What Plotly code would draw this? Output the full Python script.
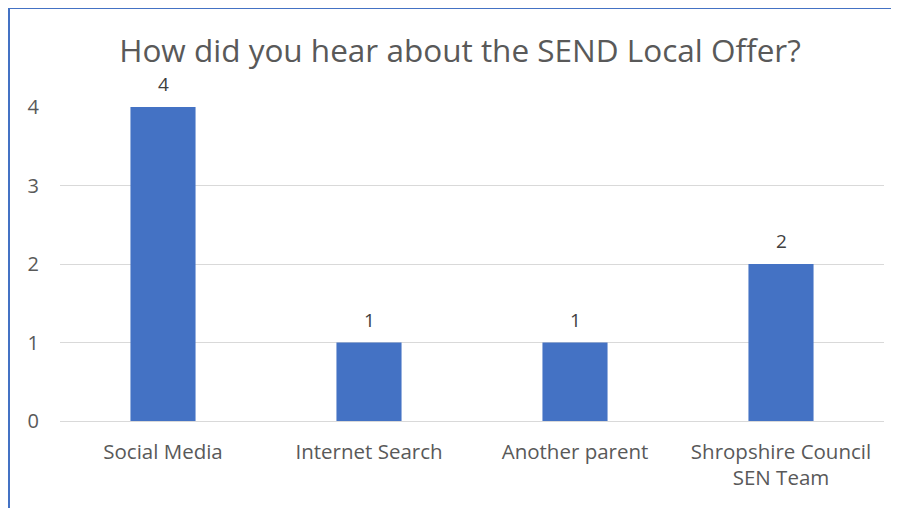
import plotly.graph_objects as go

categories = ["Social Media", "Internet Search", "Another parent", "Shropshire Council<br>SEN Team"]
values = [4, 1, 1, 2]
title_text = "How did you hear about the SEND Local Offer?"
y_ticks = [0, 1, 2, 3, 4]

# page body has an 8px margin, so the figure is drawn 8px smaller and offset
W, H = 891, 500
L, R, T, B = 52, 15, 99, 87
pw, ph = W - L - R, H - T - B

def px_x(x):
    return (x - L) / pw

def px_y(y):
    return (H - B - y) / ph

font_family = "Open Sans, Noto Sans, sans-serif"
grey = "#595959"

fig = go.Figure(go.Bar(
    x=categories, y=values,
    marker=dict(color="#4472C4", line=dict(width=0)),
    width=0.316,
))

for c, v in zip(categories, values):
    fig.add_annotation(x=c, y=v, text=str(v), showarrow=False, yanchor="middle",
                       yshift=23, font=dict(size=19, color="#404040", family=font_family))

fig.update_layout(
    width=W, height=H,
    margin=dict(l=L, r=R, t=T, b=B),
    paper_bgcolor="white", plot_bgcolor="white",
    showlegend=False,
    title=dict(text=title_text, x=px_x(452), xref="paper", xanchor="center",
               y=1 - 43 / H, yanchor="middle",
               font=dict(size=31.5, color=grey, family=font_family)),
    xaxis=dict(showgrid=False, showline=True, linecolor="#D9D9D9", linewidth=1,
               tickfont=dict(size=20.5, color=grey, family=font_family), ticks="",
               ticklabelstandoff=12),
    yaxis=dict(range=[0, 4], tickvals=y_ticks, showgrid=True, gridcolor="#D9D9D9",
               gridwidth=1, zeroline=False, showline=False, ticks="",
               tickfont=dict(size=20, color=grey, family=font_family),
               ticklabelstandoff=20),
    shapes=[dict(type="path", xref="paper", yref="paper",
                 path=f"M {px_x(1)} {px_y(H + 5)} L {px_x(1)} {px_y(0)} L {px_x(W + 5)} {px_y(0)}",
                 line=dict(color="#4472C4", width=2))],
)

fig.write_html("out.html")
